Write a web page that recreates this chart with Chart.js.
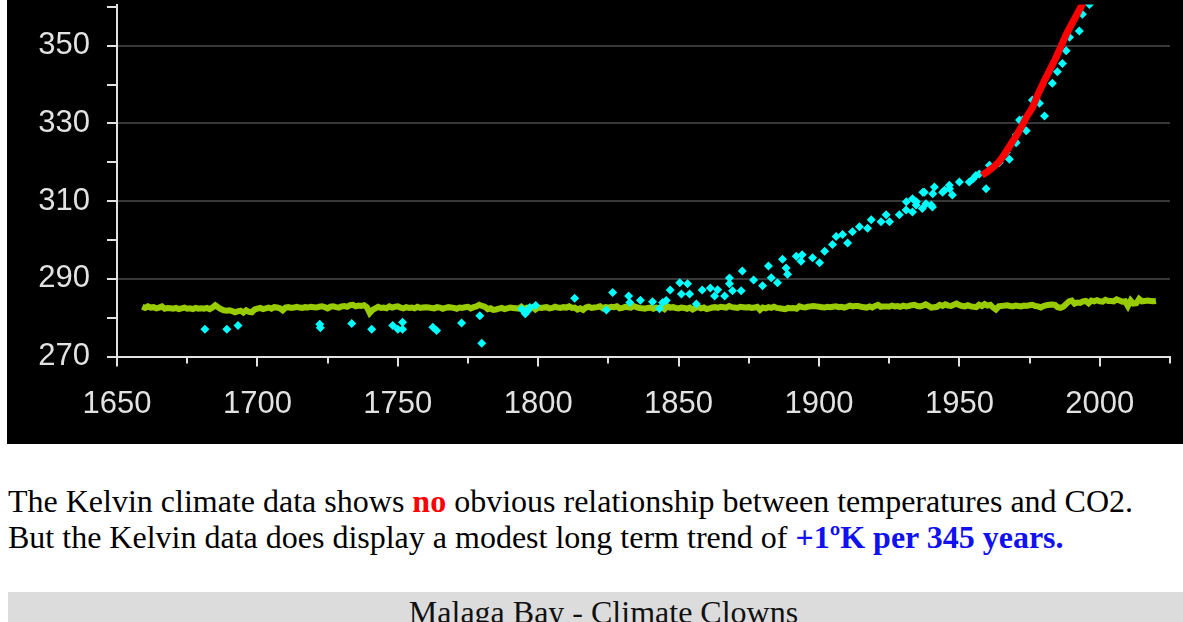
<!DOCTYPE html>
<html>
<head>
<meta charset="utf-8">
<title>Kelvin vs CO2</title>
<script src="https://cdn.jsdelivr.net/npm/chart.js@4.4.0/dist/chart.umd.min.js"></script>
<style>
  body {
    margin: 0;
    width: 1183px;
    height: 622px;
    overflow: hidden;
    position: relative;
    background: #fff;
    font-family: "Liberation Serif", "Times New Roman", serif;
  }
  #plot {
    position: absolute;
    left: 7px;
    top: 0;
    width: 1176px;
    height: 444px;
    background: #000;
  }
  #plot canvas { display: block; }
  .note {
    position: absolute;
    left: 8px;
    top: 483px;
    font-size: 32px;
    line-height: 36px;
    color: #000;
    white-space: nowrap;
  }
  .no { color: #ff0000; font-weight: bold; }
  .trend { color: #1010f0; font-weight: bold; }
  .footer {
    position: absolute;
    left: 8px;
    top: 592px;
    width: 1191px;
    height: 40px;
    padding-top: 2px;
    background: #dcdcdc;
    text-align: center;
    font-size: 32px;
    line-height: 36px;
    color: #111;
    white-space: nowrap;
  }
</style>
</head>
<body>
<div id="plot"><canvas id="kelvinChart" width="1176" height="444"></canvas></div>

<div class="note">
  The Kelvin climate data shows <span class="no">no</span> obvious relationship between temperatures and CO2.<br>
  But the Kelvin data does display a modest long term trend of <span class="trend">+1ºK per 345 years.</span>
</div>
<div class="footer">Malaga Bay - Climate Clowns</div>

<script>
// axis ticks
const xMajorTicks = [1650, 1700, 1750, 1800, 1850, 1900, 1950, 2000];
const xMinorTicks = [1675, 1725, 1775, 1825, 1875, 1925, 1975, 2025];
const yMajorTicks = [270, 290, 310, 330, 350];
const yMinorTicks = [280, 300, 320, 340, 360];

// annual temperature in Kelvin, first value is 1659
const tempStartYear = 1659;
const kelvinTemps = [
  282.8,282.5,282.9,282.6,282.7,282.4,282.6,282.9,282.3,282.5,282.4,
  282.3,282.5,282.2,282.4,282.6,282.3,282.4,282.2,282.5,282.3,
  282.4,282.3,282.5,282.2,282.6,283.2,282.7,282.2,281.9,281.8,
  281.9,281.7,281.4,281.6,281.8,281.3,281.9,281.5,281.4,282.1,
  282.3,282.5,282.2,282.4,282.6,282.3,282.7,282.6,282.4,281.9,
  282.6,282.7,282.5,282.6,282.8,282.6,282.5,282.7,282.6,282.8,
  282.7,282.6,282.8,282.9,282.7,282.4,282.8,282.9,282.7,282.6,
  282.9,283.0,282.8,283.2,283.3,282.9,283.1,283.0,283.2,282.7,
  281.2,282.0,282.4,282.8,282.5,282.6,282.4,282.9,282.6,282.8,
  282.9,282.6,282.4,282.7,282.5,282.6,282.4,282.8,282.5,282.6,
  282.7,282.6,282.5,282.4,282.7,282.6,282.3,282.5,282.7,282.6,
  282.5,282.3,282.6,282.5,282.7,282.8,282.4,282.7,282.9,283.3,
  283.0,282.8,282.2,282.4,282.0,282.1,282.3,282.5,282.2,282.4,
  282.6,282.5,282.4,282.3,282.8,282.2,282.6,282.5,282.7,282.1,
  282.6,282.5,282.6,282.7,282.4,282.5,282.8,282.6,282.5,282.7,
  282.6,282.9,282.5,282.6,282.1,282.4,282.0,282.6,282.8,282.5,
  282.6,282.7,282.9,282.4,282.7,282.6,282.8,282.7,282.9,282.4,
  282.5,282.8,282.7,282.6,283.0,282.7,282.5,282.4,282.3,282.5,
  282.6,282.3,282.6,282.5,282.7,282.2,282.9,282.6,282.7,282.5,
  282.4,282.6,282.5,282.3,282.6,282.1,282.5,282.7,282.4,282.6,
  282.2,282.4,282.6,282.7,282.5,282.8,282.7,282.6,283.0,282.7,
  282.6,282.5,282.8,282.7,282.6,282.7,282.5,282.6,282.8,282.0,
  282.6,282.4,282.7,282.5,282.8,282.5,282.4,282.3,282.2,282.5,
  282.4,282.5,282.3,282.9,282.7,282.6,282.8,282.9,283.0,282.9,
  282.8,282.7,282.6,282.8,282.7,282.8,282.9,282.7,282.8,282.6,
  282.8,283.1,282.9,283.0,283.0,282.8,282.7,282.6,282.9,282.6,
  283.0,283.3,282.8,282.9,282.9,282.8,283.1,282.9,283.0,282.8,
  283.1,282.9,283.0,283.2,283.3,283.0,282.9,283.1,283.4,283.0,
  282.6,282.7,282.8,283.3,283.0,283.4,283.1,283.0,283.3,283.6,
  283.2,283.0,282.9,283.2,282.9,282.8,282.7,283.3,283.0,283.5,
  283.1,283.3,282.6,282.1,282.9,283.0,283.1,283.2,283.0,282.9,
  283.1,283.0,282.9,283.1,283.0,283.2,283.3,283.0,282.9,282.6,
  283.0,283.2,283.3,283.4,283.3,282.7,282.5,282.8,283.5,284.2,
  284.4,283.6,283.9,283.8,284.2,284.3,283.7,284.4,284.2,284.5,
  284.2,284.1,284.6,284.3,284.3,284.2,284.7,284.4,284.1,284.2,
  283.0,284.4,283.6,283.7,284.8,284.2,284.3,284.4,284.3,284.2,284.3
];

// CO2 ppm (cyan dots)
const co2Years = [
  1681.3,1689.1,1693.1,1722.2,1722.4,1733.6,1740.7,1748.2,1750.0,1751.7,
  1751.7,1762.5,1763.8,1772.7,1779.2,1779.9,1794.1,1795.4,1796.3,1797.0,
  1799.1,1813.0,1824.3,1826.5,1832.2,1832.6,1836.4,1840.7,1843.2,1844.3,
  1845.6,1847.0,1850.4,1851.0,1853.2,1853.9,1856.3,1858.4,1861.3,1862.8,
  1863.9,1866.4,1868.1,1868.1,1869.2,1872.3,1872.7,1876.7,1879.9,1882.0,
  1883.0,1885.2,1887.0,1888.3,1888.8,1891.9,1893.6,1894.0,1897.7,1900.2,
  1902.0,1904.8,1906.1,1908.4,1910.2,1911.9,1914.4,1917.3,1918.6,1922.1,
  1923.9,1925.1,1928.6,1931.0,1931.1,1933.3,1933.3,1934.6,1934.7,1936.8,
  1937.0,1937.5,1938.1,1940.0,1940.4,1940.5,1941.1,1944.0,1944.7,1946.4,
  1946.5,1947.5,1950.0,1953.5,1954.8,1955.9,1957.1,1959.5,1960.7,1964.2,
  1966.7,1967.8,1969.6,1970.2,1970.3,1971.4,1972.5,1973.8,1976.0,1978.5,
  1980.3,1983.1,1984.9,1986.7,1988.0,1989.2,1992.7,1993.8,1996.3
];
const co2Values = [
  277.0,277.0,278.0,278.3,277.4,278.5,277.0,278.0,277.0,278.8,
  277.0,277.5,276.7,278.6,280.5,273.4,282.2,281.0,281.8,282.6,
  283.1,285.0,282.0,286.5,285.6,283.9,284.5,284.1,282.3,283.9,
  284.4,287.1,289.0,286.1,288.7,286.1,283.5,287.1,287.6,285.6,
  287.2,285.6,290.2,288.7,286.9,286.9,292.0,289.7,288.2,293.3,
  290.3,289.0,295.0,292.8,291.2,295.8,294.5,296.2,295.4,294.1,
  297.1,298.8,300.9,301.4,299.2,302.1,303.4,303.0,305.2,304.7,
  306.5,304.7,306.5,307.7,309.8,307.2,310.6,309.0,309.8,308.1,
  312.3,312.3,309.3,309.0,308.5,311.9,313.6,312.3,312.8,314.1,
  313.2,311.6,314.9,314.9,315.7,316.6,317.0,313.2,319.2,319.9,
  322.5,320.8,325.5,325.0,327.1,330.9,330.9,328.1,336.0,335.2,
  331.9,340.3,343.3,345.4,348.7,352.2,353.8,358.1,360.6
];

// Mauna Loa CO2 (red line)
const maunaLoaYears = [1958,1960,1962,1964,1966,1968,1970,1972,1974,1976,1978,1980,1982,1984,1986,1988,1990,1992,1994];
const maunaLoaCO2 = [316.6,317.6,318.7,320.0,322.0,324.3,326.5,329.0,331.8,334.0,337.5,340.6,343.5,346.3,349.5,352.8,355.6,358.2,361.0];

const axisColor = '#e2e2e2';
const gridColor = '#383838';

// short tick marks: majors a bit longer than minors
const tickMarks = {
  id: 'tickMarks',
  afterDraw(chart) {
    const { ctx, scales: { x, y } } = chart;
    const axisY = y.bottom;
    const axisX = x.left;
    ctx.save();
    ctx.strokeStyle = axisColor;
    ctx.lineWidth = 2;
    ctx.beginPath();
    xMajorTicks.forEach(v => {
      const px = Math.round(x.getPixelForValue(v));
      ctx.moveTo(px, axisY); ctx.lineTo(px, axisY + 10);
    });
    xMinorTicks.forEach(v => {
      const px = Math.round(x.getPixelForValue(v));
      ctx.moveTo(px, axisY); ctx.lineTo(px, axisY + 7);
    });
    yMajorTicks.concat(yMinorTicks).forEach(v => {
      const py = Math.round(y.getPixelForValue(v));
      ctx.moveTo(axisX, py); ctx.lineTo(axisX - 10, py);
    });
    ctx.stroke();
    ctx.restore();
  }
};

const ctx = document.getElementById('kelvinChart').getContext('2d');
new Chart(ctx, {
  data: {
    datasets: [
      {
        type: 'line',
        label: 'Mauna Loa',
        data: maunaLoaYears.map((yr, i) => ({ x: yr, y: maunaLoaCO2[i] })),
        borderColor: '#ff0000',
        borderWidth: 7,
        pointRadius: 0,
        order: 0
      },
      {
        type: 'scatter',
        label: 'CO2',
        data: co2Years.map((yr, i) => ({ x: yr, y: co2Values[i] })),
        backgroundColor: '#00ffff',
        borderWidth: 0,
        pointStyle: 'rectRot',
        pointRadius: 4.5,
        order: 1
      },
      {
        type: 'line',
        label: 'Kelvin',
        data: kelvinTemps.map((t, i) => ({ x: tempStartYear + i, y: t })),
        borderColor: '#99cc00',
        borderWidth: 6,
        pointRadius: 0,
        order: 2
      }
    ]
  },
  options: {
    responsive: false,
    animation: false,
    layout: { padding: { left: 0, right: 13, top: 0, bottom: 0 } },
    plugins: { legend: { display: false }, tooltip: { enabled: false } },
    scales: {
      x: {
        type: 'linear',
        min: 1650,
        max: 2025,
        afterBuildTicks: scale => { scale.ticks = xMajorTicks.map(v => ({ value: v })); },
        afterFit: scale => { scale.height = 87.5; scale.paddingLeft = 0; scale.paddingRight = 0; },
        ticks: {
          color: axisColor,
          padding: 29,
          maxRotation: 0,
          font: { family: 'Liberation Sans', size: 31 },
          callback: v => String(v)
        },
        grid: { display: false, drawTicks: false },
        border: { display: true, color: axisColor, width: 2 }
      },
      y: {
        type: 'linear',
        min: 270,
        max: 360.6,
        afterBuildTicks: scale => { scale.ticks = yMajorTicks.map(v => ({ value: v })); },
        // label padding would otherwise push the plot area down
        afterFit: scale => { scale.width = 110; scale.paddingTop = 0; scale.paddingBottom = 0; },
        ticks: {
          color: axisColor,
          padding: 27,
          font: { family: 'Liberation Sans', size: 31 },
          callback: v => String(v)
        },
        grid: {
          drawTicks: false,
          color: c => (c.tick && c.tick.value === 270 ? 'transparent' : gridColor),
          lineWidth: 2
        },
        border: { display: true, color: axisColor, width: 2 }
      }
    }
  },
  plugins: [tickMarks]
});
</script>
</body>
</html>
